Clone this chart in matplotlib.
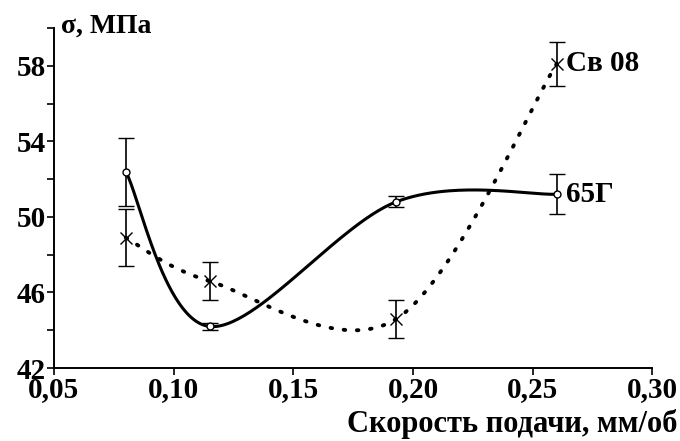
import numpy as np
import matplotlib.pyplot as plt
from matplotlib.ticker import FixedLocator, FuncFormatter

plt.rcParams['font.family'] = ['Liberation Serif', 'DejaVu Serif']
plt.rcParams['font.weight'] = 'bold'

# Data
feed = [0.08, 0.115, 0.193, 0.26]          # Скорость подачи, мм/об
s_65g = [52.4, 44.2, 50.8, 51.2]           # 65Г
e_65g = [1.8, 0.2, 0.3, 1.05]
s_sv08 = [48.9, 46.6, 44.6, 58.1]          # Св 08
e_sv08 = [1.5, 1.0, 1.0, 1.15]

XLIM = (0.05, 0.30)
YLIM = (42, 60)


def smooth_line(x, y, n=60):
    # spreadsheet-style smoothed line: Bezier segments with Catmull-Rom handles
    # (computed in axes-fraction space so both directions weigh the same)
    px = (np.asarray(x, float) - XLIM[0]) / (XLIM[1] - XLIM[0])
    py = (np.asarray(y, float) - YLIM[0]) / (YLIM[1] - YLIM[0])
    P = np.column_stack([px, py])
    Pe = np.vstack([P[0], P, P[-1]])
    t = np.linspace(0, 1, n)[:, None]
    out = []
    for i in range(len(P) - 1):
        p0, p3 = P[i], P[i + 1]
        c1 = p0 + (Pe[i + 2] - Pe[i]) / 6
        c2 = p3 - (Pe[i + 3] - Pe[i + 1]) / 6
        seg = (1 - t)**3 * p0 + 3 * (1 - t)**2 * t * c1 + 3 * (1 - t) * t**2 * c2 + t**3 * p3
        out.append(seg)
    out = np.vstack(out)
    xs = XLIM[0] + out[:, 0] * (XLIM[1] - XLIM[0])
    ys = YLIM[0] + out[:, 1] * (YLIM[1] - YLIM[0])
    return xs, ys


fig = plt.figure(figsize=(6.8, 4.41), dpi=100)
ax = fig.add_axes([0.0794, 0.1655, 0.8800, 0.771])

xs, ys = smooth_line(feed, s_65g)
ax.plot(xs, ys, color='black', lw=2.2, solid_capstyle='round')
xs, ys = smooth_line(feed, s_sv08)
ax.plot(xs, ys, color='black', lw=2.8, linestyle=(0, (0.4, 3.0)),
        dash_capstyle='round')

ax.errorbar(feed, s_sv08, yerr=e_sv08, fmt='x', color='black', ms=8, mew=1,
            elinewidth=1.2, capsize=5.5, capthick=1.2)
ax.errorbar(feed, s_65g, yerr=e_65g, fmt='o', color='black', mfc='white',
            ms=5, mew=1, elinewidth=1.2, capsize=5.5, capthick=1.2)

ax.text(feed[-1] + 0.004, s_sv08[-1], 'Св 08', fontsize=21, va='center', ha='left')
ax.text(feed[-1] + 0.004, s_65g[-1], '65Г', fontsize=21, va='center', ha='left')

ax.set_xlim(*XLIM)
ax.set_ylim(*YLIM)
ax.xaxis.set_major_locator(FixedLocator([0.05, 0.10, 0.15, 0.20, 0.25, 0.30]))
ax.xaxis.set_major_formatter(FuncFormatter(lambda v, p: f'{v:.2f}'.replace('.', ',')))
ax.yaxis.set_major_locator(FixedLocator(np.arange(42, 61, 2)))
ax.yaxis.set_major_formatter(FuncFormatter(lambda v, p: f'{v:.0f}' if round(v - 42) % 4 == 0 else ''))

for side in ('top', 'right'):
    ax.spines[side].set_visible(False)
for side in ('left', 'bottom'):
    ax.spines[side].set_linewidth(1.4)
ax.tick_params(direction='out', length=5, width=1.2, labelsize=21, pad=1)

ax.text(0.012, 1.005, 'σ, МПа', transform=ax.transAxes, fontsize=20,
        va='center', ha='left')
fig.text(0.997, 0.005, 'Скорость подачи, мм/об', fontsize=22,
         ha='right', va='bottom')

fig.savefig('out.png', dpi=100)
